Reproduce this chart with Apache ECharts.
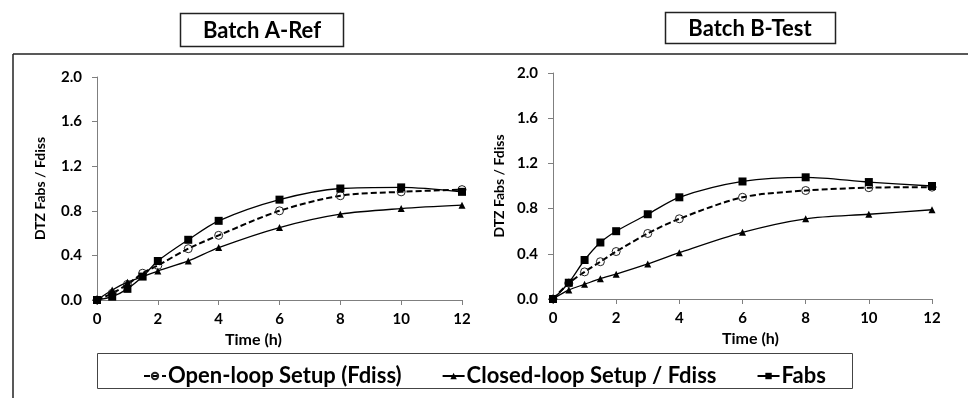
<!DOCTYPE html>
<html><head><meta charset="utf-8">
<script src="https://cdn.jsdelivr.net/npm/echarts@6/dist/echarts.min.js"></script>
<style>html,body{margin:0;padding:0;background:#fff}#c{width:968px;height:398px}</style>
</head><body><div id="c"></div>
<script>
const times = [0, 0.5, 1, 1.5, 2, 3, 4, 6, 8, 10, 12];
const seriesNames = ['Open-loop Setup (Fdiss)', 'Closed-loop Setup / Fdiss', 'Fabs'];
const panelTitles = ['Batch A-Ref', 'Batch B-Test'];
const yTicks = [0, 0.4, 0.8, 1.2, 1.6, 2.0];
const xTicks = [0, 2, 4, 6, 8, 10, 12];
// Batch A-Ref
const aOpen   = [0, 0.06, 0.14, 0.24, 0.31, 0.46, 0.58, 0.80, 0.935, 0.97, 0.99];
const aClosed = [0, 0.09, 0.16, 0.21, 0.26, 0.35, 0.47, 0.65, 0.77, 0.82, 0.85];
const aFabs   = [0, 0.03, 0.10, 0.21, 0.35, 0.54, 0.71, 0.90, 1.00, 1.01, 0.97];
// Batch B-Test
const bOpen   = [0, 0.14, 0.24, 0.33, 0.42, 0.58, 0.71, 0.90, 0.96, 0.985, 0.99];
const bClosed = [0, 0.08, 0.13, 0.18, 0.22, 0.31, 0.41, 0.59, 0.71, 0.75, 0.79];
const bFabs   = [0, 0.144, 0.345, 0.50, 0.60, 0.75, 0.90, 1.04, 1.077, 1.035, 1.00];

const FONT = 'Lato';
const pair = arr => times.map((t, i) => [t, arr[i]]);

function xAxis(gi, namePad) {
  return {
    type: 'value', gridIndex: gi, min: xTicks[0], max: xTicks[xTicks.length - 1], interval: 2,
    name: 'Time (h)', nameLocation: 'middle', nameGap: 25,
    nameTextStyle: { fontFamily: FONT, fontWeight: 'bold', fontSize: 16, color: '#000', padding: namePad },
    axisLine: { lineStyle: { color: '#7f7f7f', width: 1 } },
    axisTick: { show: true, length: 5, inside: false, lineStyle: { color: '#7f7f7f' } },
    axisLabel: { fontFamily: FONT, fontWeight: 'bold', fontSize: 15, color: '#000', margin: 12 },
    splitLine: { show: false }
  };
}
function yAxis(gi, gap) {
  return {
    type: 'value', gridIndex: gi, min: yTicks[0], max: yTicks[yTicks.length - 1], interval: 0.4,
    name: 'DTZ Fabs / Fdiss', nameLocation: 'middle', nameGap: gap, nameRotate: 90,
    nameTextStyle: { fontFamily: FONT, fontWeight: 'bold', fontSize: 14, color: '#000' },
    axisLine: { show: true, lineStyle: { color: '#7f7f7f', width: 1 } },
    axisTick: { show: true, length: 5, inside: false, lineStyle: { color: '#7f7f7f' } },
    axisLabel: { fontFamily: FONT, fontWeight: 'bold', fontSize: 15, color: '#000', margin: 15,
      formatter: v => v.toFixed(1) },
    splitLine: { show: false }
  };
}
function mk(name, gi, data) {
  const base = { name, type: 'line', xAxisIndex: gi, yAxisIndex: gi, data: pair(data), smooth: 0.3,
    z: 3, animation: false };
  if (name === seriesNames[0]) {
    return Object.assign(base, { symbol: 'circle', symbolSize: 8,
      itemStyle: { color: 'rgba(255,255,255,0)', borderColor: '#222', borderWidth: 1 },
      lineStyle: { color: '#000', width: 2, type: [6, 3] } });
  } else if (name === seriesNames[1]) {
    return Object.assign(base, { symbol: 'triangle', symbolSize: 7,
      itemStyle: { color: '#000' }, lineStyle: { color: '#000', width: 1.3 } });
  }
  return Object.assign(base, { symbol: 'rect', symbolSize: 8,
    itemStyle: { color: '#000' }, lineStyle: { color: '#000', width: 1.3 } });
}

const chart = echarts.init(document.getElementById('c'), null, { renderer: 'canvas' });
chart.setOption({
  backgroundColor: '#fff',
  animation: false,
  grid: [
    { left: 97, right: 506, top: 77, bottom: 98 },
    { left: 553, right: 36, top: 73, bottom: 99 }
  ],
  xAxis: [xAxis(0, [0, 52, 0, 0]), xAxis(1, [0, 0, 0, 16])],
  yAxis: [yAxis(0, 50), yAxis(1, 47)],
  legend: {
    data: seriesNames, left: 138, top: 360, itemGap: 40, itemWidth: 22, itemHeight: 8,
    textStyle: { fontFamily: FONT, fontWeight: 'bold', fontSize: 22, color: '#000', padding: [0, 0, 0, -3] },
    selectedMode: false
  },
  series: [
    mk(seriesNames[0], 0, aOpen), mk(seriesNames[1], 0, aClosed), mk(seriesNames[2], 0, aFabs),
    mk(seriesNames[0], 1, bOpen), mk(seriesNames[1], 1, bClosed), mk(seriesNames[2], 1, bFabs)
  ],
  graphic: [
    { type: 'line', shape: { x1: 13, y1: 54, x2: 968, y2: 54 }, style: { stroke: '#222', lineWidth: 1.5 } },
    { type: 'line', shape: { x1: 13, y1: 54, x2: 13, y2: 398 }, style: { stroke: '#222', lineWidth: 1.5 } },
    { type: 'rect', shape: { x: 180.5, y: 13.5, width: 163, height: 33 }, style: { fill: '#fff', stroke: '#222', lineWidth: 1.5 } },
    { type: 'text', x: 262, y: 31, style: { text: panelTitles[0], fontFamily: FONT, fontWeight: 'bold', fontSize: 22, fill: '#000', align: 'center', verticalAlign: 'middle' } },
    { type: 'rect', shape: { x: 665.5, y: 12.5, width: 170, height: 31 }, style: { fill: '#fff', stroke: '#222', lineWidth: 1.5 } },
    { type: 'text', x: 750, y: 29, style: { text: panelTitles[1], fontFamily: FONT, fontWeight: 'bold', fontSize: 22, fill: '#000', align: 'center', verticalAlign: 'middle' } },
    { type: 'rect', shape: { x: 97.5, y: 353.5, width: 755, height: 35 }, style: { fill: 'none', stroke: '#444', lineWidth: 1 }, z: -1 }
  ]
});
</script></body></html>
